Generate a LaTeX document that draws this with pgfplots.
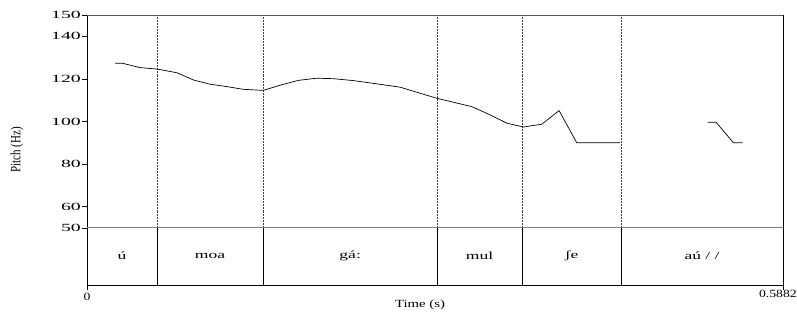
\documentclass[border=0pt]{standalone}
\usepackage{pgfplots}
\pgfplotsset{compat=1.18}
\usepackage{fontspec}
\setmainfont{Liberation Serif}
\begin{document}
\begin{tikzpicture}
\begin{axis}[
  scale only axis, width=696bp, height=270bp,
  xmin=0, xmax=0.5882, ymin=23.2, ymax=150,
  axis line style={black, line width=0.9pt},
  ytick={50,60,80,100,120,140,150},
  xtick={0,0.5882}, xticklabels={0,{}},
  tick align=outside, major tick length=5bp,
  xtick pos=left, ytick pos=left,
  tick style={black, line width=0.6pt},
  /pgf/number format/assume math mode=true,
  yticklabel style={font=\fontsize{11}{11}\selectfont, xscale=1.8, inner sep=0.5bp},
  xticklabel style={font=\fontsize{11}{11}\selectfont, xscale=1.25, inner sep=3bp},
  clip=false,
]
% boundaries
\pgfplotsinvokeforeach{0.0592,0.1488,0.2959,0.3677,0.4514}{
  \draw[densely dotted, line width=0.5pt, black!75] (axis cs:#1,50) -- (axis cs:#1,150);
  \draw[line width=0.7pt] (axis cs:#1,23.2) -- (axis cs:#1,50);
}
\draw[gray, line width=0.9pt] (axis cs:0,50) -- (axis cs:0.5882,50);
\draw[gray!70!black, line width=0.9pt] (axis cs:0,150) -- (axis cs:0.5882,150);
\addplot[black, line width=0.7pt, no marks] coordinates {
(0.0237,127.3) (0.0302,127.3) (0.0448,125.3) (0.0594,124.6) (0.0758,122.9)
(0.0899,119.5) (0.1040,117.5) (0.1180,116.4) (0.1320,115.1) (0.1490,114.6)
(0.1630,117.0) (0.1787,119.3) (0.1940,120.3) (0.2080,120.1) (0.2250,119.2)
(0.2420,117.9) (0.2646,116.1) (0.2956,110.9) (0.3250,107.0) (0.3407,103.1)
(0.3548,99.2) (0.3688,97.4) (0.3843,98.7) (0.3990,105.1) (0.4139,90.0) (0.4506,90.0)
};
\addplot[black, line width=0.7pt, no marks] coordinates {
(0.5244,99.6) (0.5317,99.6) (0.5463,90.0) (0.5540,90.0)
};
\begin{scope}[every node/.style={font=\fontsize{11}{11}\selectfont, xscale=1.6}]
\node at (axis cs:0.0296,36.9) {ú};
\node at (axis cs:0.1040,36.9) {moa};
\node at (axis cs:0.2224,36.9) {gá:};
\node at (axis cs:0.3318,36.9) {mul};
\node at (axis cs:0.4096,36.9) {ʃe};
\node at (axis cs:0.5198,36.9) {aú / /};
\end{scope}
\node[anchor=north east, font=\fontsize{11}{11}\selectfont, xscale=1.25, inner sep=0pt] at ([shift={(14bp,-5bp)}]current axis.south east) {0.5882};
\node[font=\fontsize{11}{11}\selectfont, xscale=1.35] at ([yshift=-20bp]axis cs:0.2815,23.2) {Time (s)};
\node[rotate=90, font=\fontsize{11}{11}\selectfont, yscale=1.3] at ([xshift=-70bp]axis cs:0,86.6) {Pitch (Hz)};
\end{axis}
\pgfresetboundingbox
\path ([shift={(-87bp,-28bp)}]current axis.south west) rectangle ([shift={(14bp,15bp)}]current axis.north east);
\end{tikzpicture}
\end{document}
